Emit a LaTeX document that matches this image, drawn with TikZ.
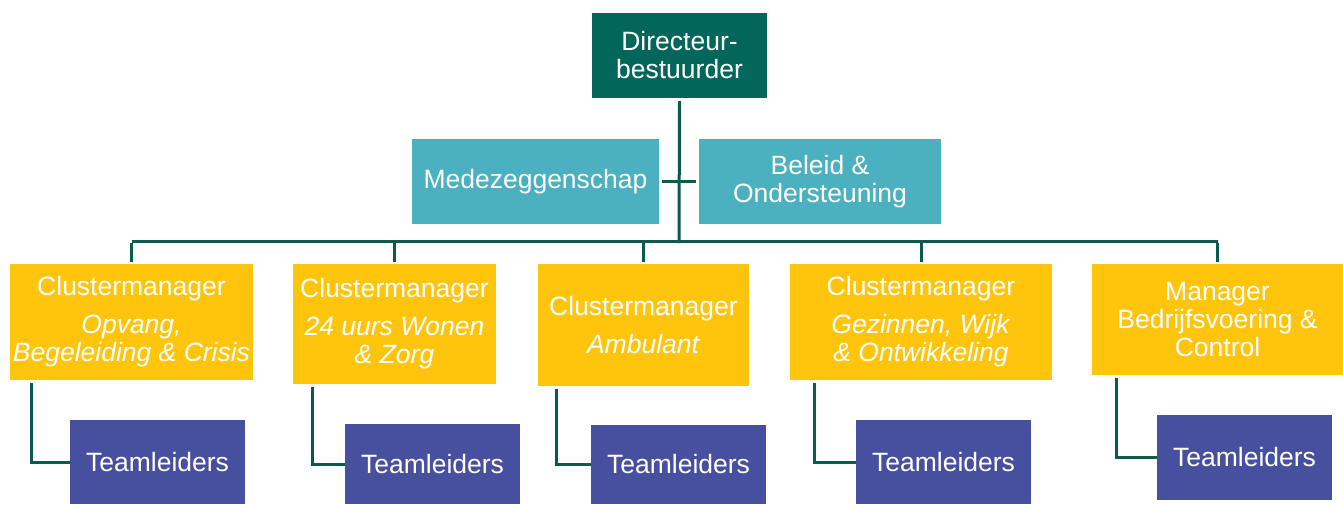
\documentclass[tikz,border=0pt]{standalone}
\usepackage{fontspec}
\setmainfont{Liberation Sans}
\definecolor{dirgreen}{HTML}{02665A}
\definecolor{staffteal}{HTML}{4BB0BF}
\definecolor{cmyellow}{HTML}{FFC50D}
\definecolor{tlpurple}{HTML}{47509E}
\definecolor{linegreen}{HTML}{0B5B4C}
\begin{document}
\begin{tikzpicture}[x=1pt,y=-1pt,
  box/.style={rectangle, inner sep=0pt, align=center, text=white,
    font=\fontsize{26.5}{28}\selectfont},
  dirbox/.style={box, fill=dirgreen},
  staffbox/.style={box, fill=staffteal},
  cmbox/.style={box, fill=cmyellow},
  tlbox/.style={box, fill=tlpurple},
  link/.style={draw=linegreen, line width=3pt}]
\useasboundingbox (0,0) rectangle (1343,504);

\node[dirbox, minimum width=175pt, minimum height=85pt] (dir) at (679.5,55.5) {Directeur-\\bestuurder};
\node[staffbox, minimum width=247pt, minimum height=85pt] (mede) at (535.5,181.5) {Medezeggenschap};
\node[staffbox, minimum width=242pt, minimum height=85pt] (bel) at (820,181.5) {Beleid \&\\Ondersteuning};

\node[cmbox, minimum width=243pt, minimum height=116pt] (c1) at (131.5,322) {Clustermanager\\[10pt]\textit{Opvang,}\\\textit{Begeleiding \& Crisis}};
\node[cmbox, minimum width=203pt, minimum height=120pt] (c2) at (394.5,324) {Clustermanager\\[10pt]\textit{24 uurs Wonen}\\\textit{\& Zorg}};
\node[cmbox, minimum width=211pt, minimum height=122pt] (c3) at (643.5,325) {Clustermanager\\[10pt]\textit{Ambulant}};
\node[cmbox, minimum width=262pt, minimum height=116pt] (c4) at (921,322) {Clustermanager\\[10pt]\textit{Gezinnen, Wijk}\\\textit{\& Ontwikkeling}};
\node[cmbox, minimum width=251pt, minimum height=111pt] (c5) at (1217.5,319.5) {Manager\\Bedrijfsvoering \&\\Control};

\node[tlbox, minimum width=175pt, minimum height=84pt] (t1) at (157.5,462) {Teamleiders};
\node[tlbox, minimum width=175pt, minimum height=80pt] (t2) at (432.5,464) {Teamleiders};
\node[tlbox, minimum width=175pt, minimum height=79pt] (t3) at (678.5,464.5) {Teamleiders};
\node[tlbox, minimum width=175pt, minimum height=84pt] (t4) at (943.5,462) {Teamleiders};
\node[tlbox, minimum width=175pt, minimum height=85pt] (t5) at (1244.5,457.5) {Teamleiders};

\coordinate (bus) at (679,243);
\draw[link] ([yshift=-3pt]dir.south) -- (bus);
\draw[link, shorten <=3pt, shorten >=3pt] (mede.east) -- (bel.west);
\draw[link] ([yshift=1.5pt]c1.north |- bus) -- ([yshift=1.5pt]c5.north |- bus);
\draw[link] (c1.north |- bus) -- ([yshift=2pt]c1.north);
\draw[link] (c2.north |- bus) -- ([yshift=2pt]c2.north);
\draw[link] (c3.north |- bus) -- ([yshift=2pt]c3.north);
\draw[link] (c4.north |- bus) -- ([yshift=2pt]c4.north);
\draw[link] (c5.north |- bus) -- ([yshift=2pt]c5.north);

\draw[link] ([xshift=22pt,yshift=-3pt]c1.south west) |- (t1.west);
\draw[link] ([xshift=20pt,yshift=-3pt]c2.south west) |- (t2.west);
\draw[link] ([xshift=19pt,yshift=-3pt]c3.south west) |- (t3.west);
\draw[link] ([xshift=25pt,yshift=-3pt]c4.south west) |- (t4.west);
\draw[link] ([xshift=25pt,yshift=-3pt]c5.south west) |- (t5.west);
\end{tikzpicture}
\end{document}
